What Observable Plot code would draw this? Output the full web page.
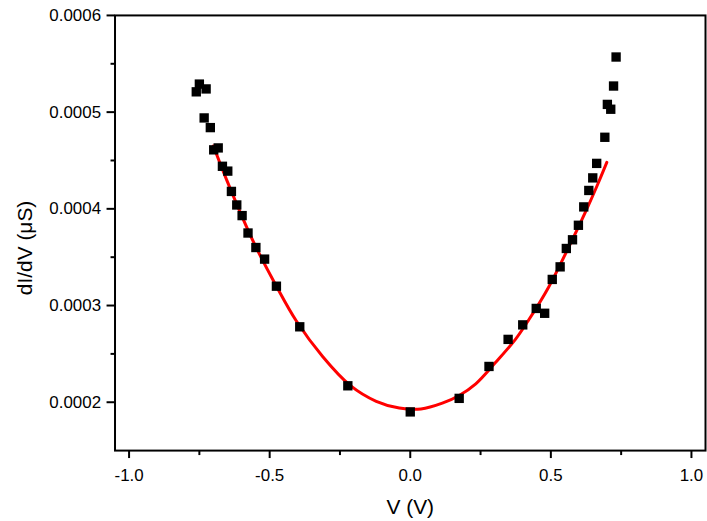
<!DOCTYPE html>
<html><head><meta charset="utf-8">
<script src="https://cdn.jsdelivr.net/npm/d3@7"></script>
<script src="https://cdn.jsdelivr.net/npm/@observablehq/plot@0.6"></script>
<style>html,body{margin:0;padding:0;background:#fff;overflow:hidden} svg{display:block}</style>
</head><body><div id="chart"></div>
<script>
const voltage = [-0.761,-0.750,-0.726,-0.733,-0.711,-0.699,-0.683,-0.668,-0.649,-0.636,-0.617,-0.598,-0.577,-0.549,-0.518,-0.476,-0.393,-0.222,0.000,0.174,0.280,0.348,0.400,0.448,0.478,0.505,0.533,0.555,0.577,0.598,0.617,0.635,0.649,0.663,0.692,0.701,0.713,0.723,0.732];
const conductance = [0.000521,0.000529,0.000524,0.000494,0.000484,0.000461,0.000463,0.000444,0.000439,0.000418,0.000404,0.000393,0.000375,0.000360,0.000348,0.000320,0.000278,0.000217,0.000190,0.000204,0.000237,0.000265,0.000280,0.000297,0.000292,0.000327,0.000340,0.000359,0.000368,0.000383,0.000402,0.000419,0.000432,0.000447,0.000474,0.000508,0.000503,0.000527,0.000557];
const fitVoltage = [-0.700,-0.653,-0.558,-0.476,-0.405,-0.311,-0.216,-0.121,-0.039,0.038,0.114,0.174,0.233,0.303,0.374,0.421,0.492,0.563,0.622,0.669,0.699];
const fitConductance = [0.000465,0.000430,0.000366,0.000320,0.000284,0.000247,0.000218,0.000201,0.000194,0.000193,0.000199,0.000207,0.000219,0.000241,0.000265,0.000285,0.000319,0.000360,0.000396,0.000427,0.000448];
const xTicks = [-1.0,-0.5,0.0,0.5,1.0];
const xMinorTicks = [-0.75,-0.25,0.25,0.75];
const yTicks = [0.0002,0.0003,0.0004,0.0005,0.0006];
const yMinorTicks = [0.00025,0.00035,0.00045,0.00055];
const xDomain = [-1.05,1.05];
const yDomain = [0.00015,0.0006];
const xLabel = "V (V)";
const yLabel = "dI/dV (\u03BCS)";

const pts = voltage.map((v,i)=>({v, g: conductance[i]}));
const fit = fitVoltage.map((v,i)=>({v, g: fitConductance[i]}));

const chart = Plot.plot({
  width: 710, height: 521,
  marginLeft: 115, marginRight: 2, marginTop: 15, marginBottom: 69,
  style: {fontFamily: "'Liberation Sans', Arial, sans-serif", fontSize: "17px", color: "black", background: "white"},
  x: {domain: xDomain},
  y: {domain: yDomain},
  marks: [
    Plot.frame({stroke: "black", strokeWidth: 2}),
    Plot.axisY(yTicks, {tickFormat: d => d.toFixed(4), tickSize: 8, tickPadding: 6, fontSize: 17, strokeWidth: 2, label: null}),
    Plot.axisY(yMinorTicks, {tickSize: 4, text: null, strokeWidth: 2, label: null}),
    Plot.axisX(xTicks, {tickFormat: d => d.toFixed(1), tickSize: 8, tickPadding: 10, fontSize: 17, strokeWidth: 2, label: null}),
    Plot.axisX(xMinorTicks, {tickSize: 5, text: null, strokeWidth: 2, label: null}),
    Plot.line(fit, {x: "v", y: "g", stroke: "#ff0000", strokeWidth: 3, curve: "catmull-rom"}),
    Plot.dot(pts, {x: "v", y: "g", symbol: "square", r: 5.3, fill: "black"}),
    Plot.text([yLabel], {frameAnchor: "left", textAnchor: "middle", lineAnchor: "middle", rotate: -90, dx: -90, dy: 15, fontSize: 21}),
    Plot.text([xLabel], {frameAnchor: "bottom", textAnchor: "middle", lineAnchor: "middle", dy: 56.5, fontSize: 21})
  ]
});
document.getElementById("chart").appendChild(chart);
</script>
</body></html>
